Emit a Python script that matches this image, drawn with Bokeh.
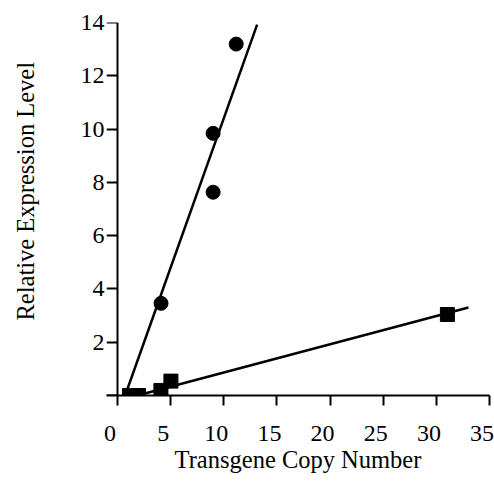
from bokeh.plotting import figure
from bokeh.models import Range1d, FixedTicker, LinearAxis, Title
from bokeh.embed import file_html
from bokeh.resources import INLINE

# ---- data ----
circle_x = [4.1, 9.0, 9.0, 11.17]
circle_y = [3.46, 7.63, 9.84, 13.19]
square_x = [1.13, 1.98, 4.09, 5.03, 31.04]
square_y = [0.0, 0.0, 0.19, 0.54, 3.04]
circle_fit_x = [0.72, 13.14]
circle_fit_y = [0.0, 13.92]
square_fit_x = [1.6, 33.02]
square_fit_y = [-0.03, 3.30]
x_ticks = [0, 5, 10, 15, 20, 25, 30, 35]
y_ticks = [0, 2, 4, 6, 8, 10, 12, 14]
y_tick_labels = ["", "2", "4", "6", "8", "10", "12", "14"]
x_tick_labels = ["0", "5", "10", "15", "20", "25", "30", "35"]
x_label = "Transgene Copy Number"
y_label = "Relative Expression Level"

FONT = "Liberation Serif"

p = figure(width=494, height=491,
           x_range=Range1d(-1.03, 35), y_range=Range1d(0, 14),
           output_backend="svg", toolbar_location=None,
           x_axis_type=None, y_axis_type=None, title=None,
           min_border_left=106, min_border_right=5,
           min_border_top=22, min_border_bottom=96)
p.grid.visible = False
p.outline_line_color = None
p.background_fill_color = "white"
p.border_fill_color = "white"

# y axis tick labels (at the frame edge)
ylab = LinearAxis(ticker=FixedTicker(ticks=y_ticks),
                  major_label_overrides={t: l for t, l in zip(y_ticks, y_tick_labels)})
ylab.axis_line_color = None
ylab.major_tick_line_color = None
ylab.minor_tick_line_color = None
ylab.major_tick_out = 0
ylab.major_tick_in = 0
ylab.major_label_standoff = 2
ylab.major_label_text_font = FONT
ylab.major_label_text_font_size = "24px"
ylab.major_label_text_color = "black"
p.add_layout(ylab, "left")

# y axis line and ticks at x = 0
yaxis = LinearAxis(ticker=FixedTicker(ticks=y_ticks), fixed_location=0,
                   major_label_overrides={t: "" for t in y_ticks})
yaxis.axis_line_width = 2
yaxis.axis_line_color = "black"
yaxis.major_tick_line_width = 2
yaxis.major_tick_out = 11
yaxis.major_tick_in = 0
yaxis.minor_tick_line_color = None
yaxis.major_label_standoff = 0
yaxis.major_label_text_font_size = "0px"
p.add_layout(yaxis, "left")

# empty spacing panel between the tick labels and the y title
spacer = LinearAxis(ticker=FixedTicker(ticks=y_ticks),
                    major_label_overrides={t: "" for t in y_ticks})
spacer.axis_line_color = None
spacer.major_tick_line_color = None
spacer.minor_tick_line_color = None
spacer.major_tick_out = 32
spacer.major_tick_in = 0
spacer.major_label_standoff = 0
spacer.major_label_text_font_size = "0px"
p.add_layout(spacer, "left")

# y axis title, a little above the middle as in the reference
ytitle = Title(text=y_label, align="left", offset=75, standoff=14,
               text_font=FONT, text_font_size="24.5px", text_font_style="normal",
               text_color="black")
p.add_layout(ytitle, "left")

# x axis: line and ticks
xaxis = LinearAxis(ticker=FixedTicker(ticks=x_ticks),
                   major_label_overrides={t: "" for t in x_ticks})
xaxis.axis_line_width = 2
xaxis.axis_line_color = "black"
xaxis.major_tick_line_width = 2
xaxis.major_tick_out = 10
xaxis.major_tick_in = 0
xaxis.minor_tick_line_color = None
xaxis.major_label_standoff = 0
xaxis.major_label_text_font_size = "0px"
p.add_layout(xaxis, "below")

# x axis labels (printed slightly left of their ticks in the reference)
label_pos = [round(t - 0.7, 2) for t in x_ticks]
xlab = LinearAxis(ticker=FixedTicker(ticks=label_pos),
                  major_label_overrides={pos: l for pos, l in zip(label_pos, x_tick_labels)})
xlab.axis_line_color = None
xlab.major_tick_line_color = None
xlab.minor_tick_line_color = None
xlab.major_tick_out = 0
xlab.major_tick_in = 0
xlab.major_label_standoff = 20
xlab.major_label_text_font = FONT
xlab.major_label_text_font_size = "24px"
xlab.major_label_text_color = "black"
xlab.axis_label = x_label
xlab.axis_label_text_font = FONT
xlab.axis_label_text_font_size = "24.5px"
xlab.axis_label_text_font_style = "normal"
xlab.axis_label_text_color = "black"
xlab.axis_label_standoff = 2
p.add_layout(xlab, "below")

# fit lines
p.line(circle_fit_x, circle_fit_y, line_color="black", line_width=2.5)
p.line(square_fit_x, square_fit_y, line_color="black", line_width=2.5)

# markers
p.scatter(circle_x, circle_y, marker="circle", size=14, fill_color="black", line_color="black")
p.scatter(square_x, square_y, marker="square", size=14, fill_color="black", line_color="black")

open("out.html", "w").write(file_html(p, INLINE))
